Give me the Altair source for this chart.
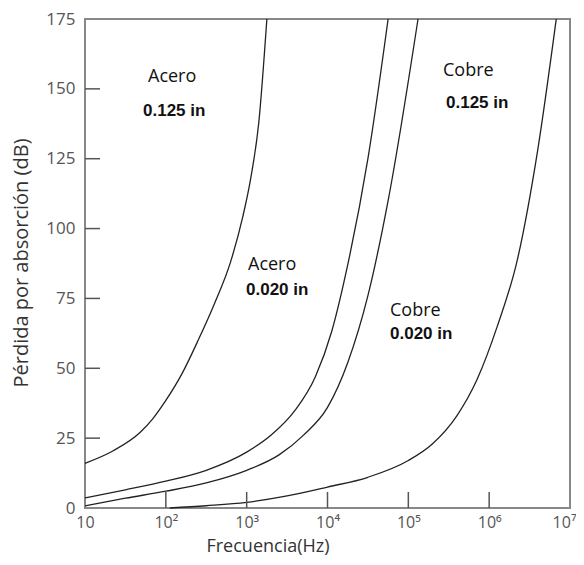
import altair as alt
import pandas as pd

# ---- data ----
acero_125_f = [10, 22.4, 47.9, 69.2, 100, 158, 251, 398, 631, 891, 1122, 1413, 1778]
acero_125_v = [16, 20.5, 27, 32, 38.5, 48, 60, 73, 88, 104, 118, 138, 175]

acero_020_f = [10, 31.6, 100, 316, 1000, 1995, 3981, 7079, 11220, 17780, 31620, 56230]
acero_020_v = [3.6, 6.5, 9.6, 13.5, 20, 26, 35, 47, 63, 87, 125, 175]

cobre_125_f = [10, 31.6, 100, 316, 1000, 2512, 5012, 10000, 17780, 31620, 56230, 131800]
cobre_125_v = [0.8, 3.5, 6, 9, 13.5, 19, 26, 36, 52, 76, 110, 175]

cobre_020_f = [112, 316, 1000, 3162, 10000, 31620, 100000, 199500, 398100, 707900, 1259000, 2239000, 3981000, 6761000]
cobre_020_v = [0, 0.8, 2, 4.3, 7.5, 11, 17, 23, 33, 46, 65, 89, 128, 175]

x_ticks = [10, 100, 1000, 10000, 100000, 1000000, 10000000]
x_tick_labels = ["10", "10²", "10³", "10⁴", "10⁵", "10⁶", "10⁷"]
y_ticks = [0, 25, 50, 75, 100, 125, 150, 175]
inner_y_ticks = [25, 50, 75, 100, 125, 150]
inner_x_ticks = [100, 1000, 10000, 100000, 1000000]

rows = []
for name, fs, vs in [("Acero 0.125", acero_125_f, acero_125_v),
                     ("Acero 0.020", acero_020_f, acero_020_v),
                     ("Cobre 0.125", cobre_125_f, cobre_125_v),
                     ("Cobre 0.020", cobre_020_f, cobre_020_v)]:
    for f, v in zip(fs, vs):
        rows.append({"serie": name, "f": f, "val": v})
df = pd.DataFrame(rows)

# label expression
expr = "''"
for v, lab in reversed(list(zip(x_ticks, x_tick_labels))):
    expr = f"datum.value == {v} ? '{lab}' : ({expr})"

H = 489
LABEL_FONT = "Open Sans"
xaxis = alt.Axis(values=x_ticks, labelExpr=expr, ticks=False, domain=False, grid=False,
                 title=None, labelFont=LABEL_FONT, labelFontSize=16, labelColor="#555",
                 labelPadding=6, labelFlush=False,
                 labelOffset={"condition": {"test": "datum.value >= 10000000", "value": -6},
                              "value": 0})
yaxis = alt.Axis(values=y_ticks, ticks=False, domain=False, grid=False, title=None,
                 labelFont=LABEL_FONT, labelFontSize=17, labelColor="#555", labelPadding=10)
xscale = alt.Scale(type="log", domain=[10, 1e7], nice=False)
yscale = alt.Scale(domain=[0, 175], nice=False)

lines = alt.Chart(df).mark_line(color="#222", strokeWidth=1.3, interpolate="monotone").encode(
    x=alt.X("f:Q", scale=xscale, axis=xaxis),
    y=alt.Y("val:Q", scale=yscale, axis=yaxis),
    detail="serie:N",
)

ytick_layer = alt.Chart(pd.DataFrame({"val": inner_y_ticks})).mark_rule(
    color="#555", strokeWidth=1.5).encode(
    y=alt.Y("val:Q", scale=yscale, axis=yaxis),
    x=alt.value(0), x2=alt.value(15),
)

xtick_layer = alt.Chart(pd.DataFrame({"f": inner_x_ticks})).mark_rule(
    color="#555", strokeWidth=1.5).encode(
    x=alt.X("f:Q", scale=xscale, axis=xaxis),
    y=alt.value(H), y2=alt.value(H - 16),
)

def label(txt, x, y, bold=False, **kw):
    return alt.Chart(pd.DataFrame({"t": [txt]})).mark_text(
        align="left", baseline="middle",
        font="Liberation Sans" if bold else "Open Sans",
        fontWeight="bold" if bold else "normal",
        fontSize=17 if bold else 18, color="#111", **kw
    ).encode(text="t:N", x=alt.value(x), y=alt.value(y))

annotations = [
    label("Acero", 63, 58),
    label("0.125 in", 58, 92, bold=True),
    label("Acero", 163, 246),
    label("0.020 in", 161, 271, bold=True),
    label("Cobre", 358, 52),
    label("0.125 in", 361, 84, bold=True),
    label("Cobre", 305, 292),
    label("0.020 in", 305, 315, bold=True),
]

xtitle = alt.Chart(pd.DataFrame({"t": ["Frecuencia(Hz)"]})).mark_text(
    align="center", baseline="middle", font="Open Sans", fontSize=18, color="#333"
).encode(text="t:N", x=alt.value(183), y=alt.value(528))

ytitle = alt.Chart(pd.DataFrame({"t": ["Pérdida por absorción (dB)"]})).mark_text(
    align="center", baseline="middle", font="Open Sans", fontSize=20, color="#333", angle=270
).encode(text="t:N", x=alt.value(-63), y=alt.value(244))

chart = alt.layer(lines, ytick_layer, xtick_layer, *annotations, xtitle, ytitle).properties(
    width=485, height=H,
    autosize=alt.AutoSizeParams(type="none"),
    padding={"left": 77, "top": 11, "right": 6, "bottom": 49},
).configure_view(stroke="#888", strokeWidth=2)

chart.save("out.html", embed_options={"renderer": "svg", "actions": False})
